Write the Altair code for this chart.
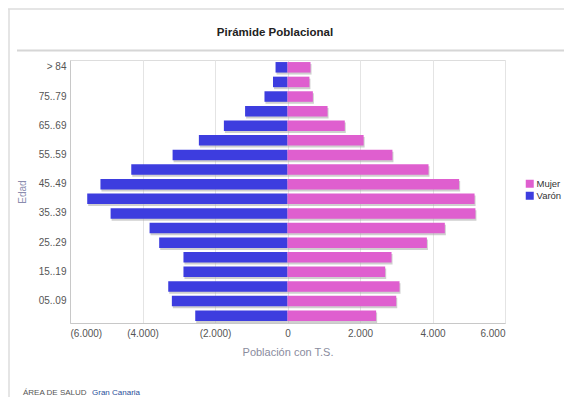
import altair as alt
import pandas as pd

ages = ["> 84", "80..84", "75..79", "70..74", "65..69", "60..64", "55..59",
        "50..54", "45..49", "40..44", "35..39", "30..34", "25..29", "20..24",
        "15..19", "10..14", "05..09", "00..04"]
varon = [330, 400, 635, 1170, 1755, 2445, 3170, 4310, 5160, 5525, 4880, 3805,
         3540, 2870, 2870, 3290, 3190, 2545]
mujer = [635, 605, 700, 1105, 1580, 2100, 2895, 3890, 4735, 5160, 5185, 4340,
         3845, 2870, 2695, 3090, 3000, 2445]
sexes = ["Mujer", "Varón"]
colors = ["#df5fcf", "#3d3ddf"]
x_ticks = [-6000, -4000, -2000, 0, 2000, 4000, 6000]
title_text = ["Pirámide Poblacional"]
footer_label = ["ÁREA DE SALUD"]
footer_value = ["Gran Canaria"]

rows = []
for a, v, m in zip(ages, varon, mujer):
    rows.append({"edad": a, "sexo": "Varón", "valor": -v})
    rows.append({"edad": a, "sexo": "Mujer", "valor": m})
df = pd.DataFrame(rows)

label_expr = ("datum.value < 0 ? '(' + replace(format(-datum.value, ','), ',', '.') + ')' "
              ": replace(format(datum.value, ','), ',', '.')")

x_enc = alt.X("valor:Q", stack=None,
              scale=alt.Scale(domain=[-6000, 6000], nice=False),
              axis=alt.Axis(values=x_ticks, labelExpr=label_expr,
                            title="Población con T.S.", grid=True, ticks=False,
                            gridColor="#e4e4e4", domainColor="#c8c8c8",
                            labelFontSize=10, labelColor="#555555", labelPadding=5,
                            titleFontSize=11, titleFontWeight="normal",
                            titleColor="#8a8c9e", titlePadding=8))
y_enc = alt.Y("edad:N", sort=ages,
              scale=alt.Scale(paddingInner=0.28, paddingOuter=0.14),
              axis=alt.Axis(values=ages[::2], title="Edad", ticks=False,
                            domainColor="#c8c8c8", labelFontSize=10,
                            labelColor="#555555", labelPadding=4,
                            titleFontSize=10, titleFontWeight="normal",
                            titleColor="#8a8cae", titlePadding=11))

shadow = alt.Chart(df).mark_bar(color="#a8a8a8", opacity=0.55, yOffset=2, xOffset=1).encode(
    x=x_enc, y=y_enc)

bars = alt.Chart(df).mark_bar().encode(
    x=x_enc, y=y_enc,
    color=alt.Color("sexo:N", scale=alt.Scale(domain=sexes, range=colors),
                    legend=alt.Legend(title=None, orient="none", legendX=455,
                                      legendY=119, symbolType="square",
                                      symbolSize=64, labelFontSize=9.5,
                                      labelColor="#333333", rowPadding=1,
                                      symbolStrokeWidth=0, labelOffset=2,
                                      padding=0)))

title_df = pd.DataFrame({"t": title_text})
title = alt.Chart(title_df).mark_text(fontSize=11.5, fontWeight="bold", color="#222222",
                                      align="center", baseline="middle").encode(
    text="t:N", x=alt.value(205), y=alt.value(-27))

line_df = pd.DataFrame({"k": [1]})
top_border = alt.Chart(line_df).mark_rule(color="#dcdcdc", strokeWidth=1.5).encode(
    x=alt.value(-62), x2=alt.value(494), y=alt.value(-51))
left_border = alt.Chart(line_df).mark_rule(color="#dcdcdc", strokeWidth=1.5).encode(
    x=alt.value(-61), y=alt.value(-51), y2=alt.value(337))
sep = alt.Chart(line_df).mark_rule(color="#d6d6d6", strokeWidth=2).encode(
    x=alt.value(-53), x2=alt.value(494), y=alt.value(-9.5))

f1 = alt.Chart(pd.DataFrame({"t": footer_label})).mark_text(
    fontSize=8, color="#555555", align="left", baseline="middle").encode(
    text="t:N", x=alt.value(-47), y=alt.value(333))
f2 = alt.Chart(pd.DataFrame({"t": footer_value})).mark_text(
    fontSize=8, color="#2a4f9a", align="left", baseline="middle").encode(
    text="t:N", x=alt.value(22), y=alt.value(333))

chart = alt.layer(top_border, left_border, sep, shadow, bars, title, f1, f2).properties(
    width=435, height=263,
    autosize=alt.AutoSizeParams(type="none"),
    padding={"left": 62, "top": 52, "right": 59, "bottom": 74},
).configure_view(stroke=None).configure(font="Liberation Sans")

chart.save("out.html", embed_options={"renderer": "svg", "actions": False})
